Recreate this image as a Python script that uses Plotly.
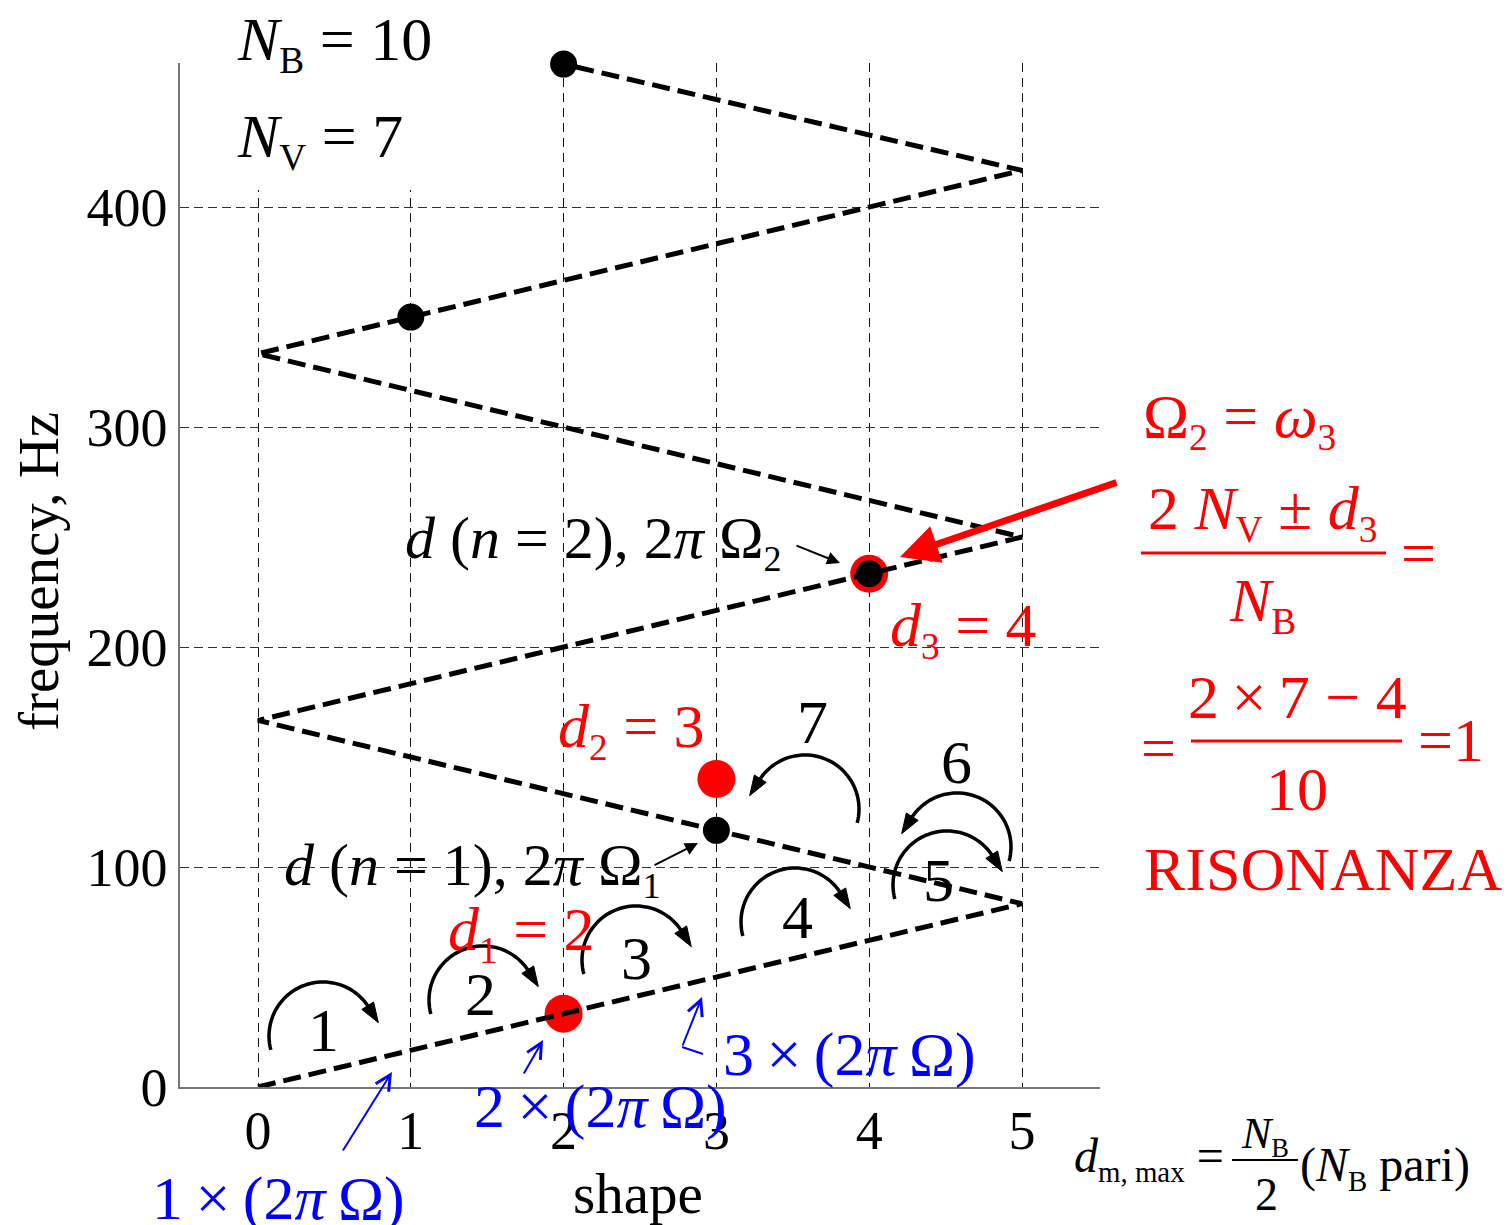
import math
import plotly.graph_objects as go

# ---------------- data ----------------
zig_shape = [0, 5, 0, 5, 0, 5, 2]
zig_freq = [0, 83.33, 166.67, 250, 333.33, 416.67, 465]
black_shape = [1, 2, 3, 4]
black_freq = [350, 465, 116.67, 233.33]
red_shape = [2, 3, 4]
red_freq = [33.33, 140, 233.33]
x_ticks = [0, 1, 2, 3, 4, 5]
y_ticks = [0, 100, 200, 300, 400]
arc_labels = ["1", "2", "3", "4", "5", "6", "7"]

FONT = "Liberation Serif"
RED = "#ff0000"
BLUE = "#0000ff"
TS = "\u2009"  # thin space

# plot area in pixels
L, R, T, B = 180, 1100, 63, 1087
W, H = 1508, 1225


def P(x, y):
    """pixel position on the page -> paper coordinates"""
    return ((x - L) / (R - L), (B - y) / (B - T))


def S(t):
    """subscript, a bit smaller than plotly's default"""
    return f"<sub><span style='font-size:86%'>{t}</span></sub>"


fig = go.Figure()

fig.add_trace(go.Scatter(x=red_shape, y=red_freq, mode="markers",
                         marker=dict(size=38, color=RED), cliponaxis=False,
                         showlegend=False, hoverinfo="skip"))
fig.add_trace(go.Scatter(x=zig_shape, y=zig_freq, mode="lines",
                         line=dict(color="black", width=5, dash="18px,8px"),
                         cliponaxis=False, showlegend=False, hoverinfo="skip"))
fig.add_trace(go.Scatter(x=black_shape, y=black_freq, mode="markers",
                         marker=dict(size=27, color="black"), cliponaxis=False,
                         showlegend=False, hoverinfo="skip"))

shapes = []
annotations = []

# mask the top of the vertical grid lines behind N_B / N_V
x0, y0 = P(184, 0)
x1, y1 = P(450, 190)
shapes.append(dict(type="rect", xref="paper", yref="paper", x0=x0, y0=y1, x1=x1, y1=y0 + 0.1,
                   fillcolor="white", line=dict(width=0), layer="above"))

# curved arrows
arc_specs = [  # center px, clockwise?
    (323, 1036, True), (483, 1000, True), (636, 960, True), (795, 922, True),
    (947, 885, True), (957, 847, False), (805, 809, False)]
label_pos = [(323, 1030), (480, 994), (636, 958), (797, 917), (938, 880), (956, 762), (812, 722)]
RAD = 54
for (cx, cy, cw), lab, (lx, ly) in zip(arc_specs, arc_labels, label_pos):
    a0, a1 = (195, 32) if cw else (-15, 148)
    pts = []
    n = 48
    for i in range(n + 1):
        a = math.radians(a0 + (a1 - a0) * i / n)
        pts.append(P(cx + RAD * math.cos(a), cy - RAD * math.sin(a)))
    path = "M " + " L ".join(f"{px:.5f},{py:.5f}" for px, py in pts)
    shapes.append(dict(type="path", xref="paper", yref="paper", path=path,
                       line=dict(color="black", width=3.5)))
    a = math.radians(a1)
    ex, ey = cx + RAD * math.cos(a), cy - RAD * math.sin(a)
    if cw:
        dx, dy = math.sin(a), math.cos(a)
    else:
        dx, dy = -math.sin(a), -math.cos(a)
    nx, ny = -dy, dx
    tip = P(ex + 18 * dx, ey + 18 * dy)
    c1 = P(ex + 7 * nx - 2 * dx, ey + 7 * ny - 2 * dy)
    c2 = P(ex - 7 * nx - 2 * dx, ey - 7 * ny - 2 * dy)
    tri = f"M {tip[0]:.5f},{tip[1]:.5f} L {c1[0]:.5f},{c1[1]:.5f} L {c2[0]:.5f},{c2[1]:.5f} Z"
    shapes.append(dict(type="path", xref="paper", yref="paper", path=tri,
                       fillcolor="black", line=dict(color="black", width=1)))
    px_, py_ = P(lx, ly)
    annotations.append(dict(x=px_, y=py_, xref="paper", yref="paper", text=lab,
                            showarrow=False, xanchor="center", yanchor="middle",
                            font=dict(family=FONT, size=62, color="black")))


def txt(x, y, text, size=60, color="black", xanchor="left", angle=0):
    px_, py_ = P(x, y)
    annotations.append(dict(x=px_, y=py_, xref="paper", yref="paper", text=text,
                            showarrow=False, xanchor=xanchor, yanchor="middle",
                            textangle=angle,
                            font=dict(family=FONT, size=size, color=color)))


def arrow(tx, ty, sx, sy, color, width, head, size):
    px_, py_ = P(tx, ty)
    annotations.append(dict(x=px_, y=py_, xref="paper", yref="paper", text="",
                            showarrow=True, axref="pixel", ayref="pixel",
                            ax=sx - tx, ay=sy - ty, arrowcolor=color,
                            arrowwidth=width, arrowhead=head, arrowsize=size,
                            standoff=0, startstandoff=0))


def hline(xa, xb, y, color, width=3):
    a = P(xa, y)
    b = P(xb, y)
    shapes.append(dict(type="line", xref="paper", yref="paper", x0=a[0], y0=a[1],
                       x1=b[0], y1=b[1], line=dict(color=color, width=width)))


# top-left parameters
txt(235, 43, f"<i>N</i>{S('B')} = 10", 62)
txt(235, 140, f"<i>N</i>{S('V')} = 7", 62)

# black labels with small arrows
txt(403, 542, f"<i>d</i> (<i>n</i> = 2), 2<i>π</i> Ω{S('2')}", 60)
arrow(840, 563, 795, 545, "black", 2, 2, 1.3)
txt(282, 869, f"<i>d</i> (<i>n</i> = 1), 2<i>π</i> Ω{S('1')}", 60)
arrow(698, 843, 653, 866, "black", 2, 2, 1.3)

# red d labels
txt(446, 933, f"<i>d</i>{S('1')} = 2", 62, RED)
txt(556, 730, f"<i>d</i>{S('2')} = 3", 62, RED)
txt(888, 629, f"<i>d</i>{S('3')} = 4", 62, RED)

# red resonance explanation
txt(1141, 420, f"Ω{S('2')} = <i>ω</i>{S('3')}", 62, RED)
arrow(900, 557, 1118, 482, RED, 7, 2, 1.1)
txt(1263, 512, f"2 <i>N</i>{S('V')} ± <i>d</i>{S('3')}", 62, RED, "center")
hline(1141, 1386, 553, RED, 3)
txt(1418, 553, "=", 62, RED, "center")
txt(1262, 604, f"<i>N</i>{S('B')}", 62, RED, "center")
txt(1158, 748, "=", 62, RED, "center")
txt(1297, 697, f"2{TS}×{TS}7 − 4", 62, RED, "center")
hline(1191, 1402, 741, RED, 3)
txt(1297, 789, "10", 62, RED, "center")
txt(1416, 740, "=1", 62, RED)
txt(1142, 869, "RISONANZA", 62, RED)

# blue labels
txt(150, 1198, f"1{TS}×{TS}(2<i>π</i>{TS}Ω)", 62, BLUE)
arrow(392, 1072, 342, 1152, BLUE, 2, 5, 1.5)
txt(472, 1106, f"2{TS}×{TS}(2<i>π</i>{TS}Ω)", 62, BLUE)
arrow(543, 1040, 523, 1075, BLUE, 2, 5, 1.5)
txt(721, 1054, f"3{TS}×{TS}(2<i>π</i>{TS}Ω)", 62, BLUE)
a = P(703, 1054)
b = P(682, 1047)
shapes.append(dict(type="line", xref="paper", yref="paper", x0=a[0], y0=a[1],
                   x1=b[0], y1=b[1], line=dict(color=BLUE, width=2)))
arrow(702, 997, 682, 1047, BLUE, 2, 5, 1.5)

# bottom-right formula
txt(1072, 1158, f"<i>d</i>{S('m, max')} =", 48)
txt(1265, 1136, f"<i>N</i>{S('B')}", 44, "black", "center")
hline(1232, 1298, 1160, "black", 2)
txt(1266, 1194, "2", 46, "black", "center")
txt(1298, 1167, f"(<i>N</i>{S('B')} pari)", 48)

# axis titles
txt(38, 572, "frequency, Hz", 57, "black", "center", -90)
txt(638, 1193, "shape", 57, "black", "center")

fig.update_layout(
    width=W, height=H,
    margin=dict(l=L, r=W - R, t=T, b=H - B, autoexpand=False),
    paper_bgcolor="white", plot_bgcolor="white",
    shapes=shapes, annotations=annotations,
    showlegend=False,
    xaxis=dict(range=[-0.5105, 5.5105], tickvals=x_ticks, ticktext=[str(v) for v in x_ticks],
               showgrid=True, gridcolor="#111111", griddash="9px,6px", gridwidth=1,
               zeroline=False, showline=True, linecolor="#777777", linewidth=1.5,
               ticks="", ticklabelstandoff=-5,
               tickfont=dict(family=FONT, size=54, color="black")),
    yaxis=dict(range=[0, 465.5], tickvals=y_ticks, ticktext=[str(v) for v in y_ticks],
               showgrid=True, gridcolor="#333333", griddash="9px,5px", gridwidth=1,
               zeroline=False, showline=True, linecolor="#777777", linewidth=1.5,
               ticks="", ticklabelstandoff=0,
               tickfont=dict(family=FONT, size=54, color="black")),
)

fig.write_html("out.html", config={"displayModeBar": False},
               post_script="document.body.style.margin='0';")
